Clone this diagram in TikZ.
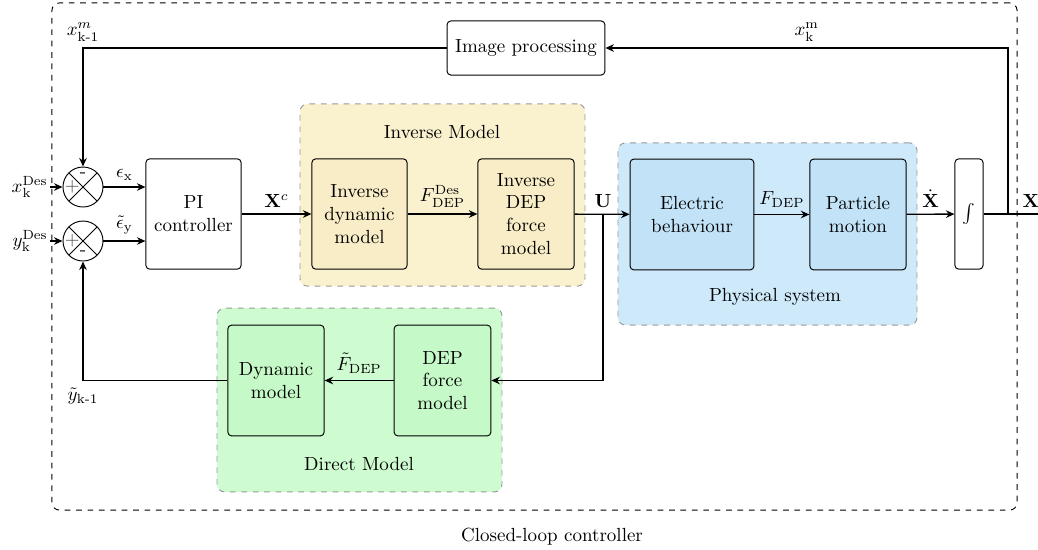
\documentclass[tikz,border=0pt]{standalone}
\usepackage{amsmath,amssymb}
\usepackage{bm}
\usepackage{tikz}
\usepackage{xcolor}
\usetikzlibrary{arrows.meta}

\definecolor{invback}{RGB}{250,241,206}
\definecolor{invfill}{RGB}{248,237,198}
\definecolor{phyback}{RGB}{206,233,249}
\definecolor{phyfill}{RGB}{194,227,247}
\definecolor{dirback}{RGB}{206,252,208}
\definecolor{dirfill}{RGB}{198,249,200}

\begin{document}
\begin{tikzpicture}[x=0.0185cm, y=-0.0185cm,
% Style for the blocks
block style/.style={
rectangle,
rounded corners=2pt,
draw=black,
line width=0.5pt,
align=center,
minimum width=1.76cm,
minimum height=2.04cm
},
% Style for the summing junctions
sum style/.style={
circle,
draw=black,
line width=0.5pt,
minimum size=0.74cm,
inner sep=0pt,
path picture={
\draw[line width=0.5pt] (path picture bounding box.north west) -- (path picture bounding box.south east)
(path picture bounding box.south west) -- (path picture bounding box.north east);
}
},
% Style for the coloured groups
back style/.style={
rectangle,
rounded corners=4pt,
draw=black!40,
dashed,
line width=0.5pt
},
% Style for the connections
link style/.style={
line width=0.7pt,
-{Stealth[length=4.5pt,width=4pt,inset=1.5pt]}
}
]

\useasboundingbox (0,0) rectangle (1038,549);

% Closed-loop frame
\node[rectangle, rounded corners=4pt, draw=black, dashed, line width=0.5pt,
minimum width=17.85cm, minimum height=9.38cm] (frame) at (534.5,256.5) {};
\node (framelab) at (552,537) {Closed-loop controller};

% Coloured groups
\node[back style, fill=invback, minimum width=5.27cm, minimum height=3.37cm] (invgroup) at (442.5,195) {};
\node (invlab) at (442,132) {Inverse Model};
\node[back style, fill=phyback, minimum width=5.53cm, minimum height=3.37cm] (phygroup) at (767.5,234) {};
\node (phylab) at (775,297) {Physical system};
\node[back style, fill=dirback, minimum width=5.27cm, minimum height=3.40cm] (dirgroup) at (359.5,400) {};
\node (dirlab) at (359,464) {Direct Model};

% Summing junctions
\foreach \i/\y/\d in {1/187/-12, 2/241/12} {
\node[sum style] (s\i) at (83,\y) {};
\node[inner sep=0pt, text=black!70] (plus\i) at ([xshift=-0.2cm]s\i.center) {$+$};
\node[inner sep=0pt] (minus\i) at (83,\y+\d) {-};
}

% Blocks
\node[block style] (pi) at (193.5,214) {PI\\controller};
\node[block style, fill=invfill] (invdyn) at (359.5,214) {Inverse\\dynamic\\model};
\node[block style, fill=invfill, minimum width=1.78cm] (invdep) at (526,214) {Inverse\\DEP\\force\\model};
\node[block style, fill=phyfill, minimum width=2.29cm, minimum height=2.05cm] (elec) at (692,214.5) {Electric\\behaviour};
\node[block style, fill=phyfill, minimum width=1.78cm, minimum height=2.05cm] (part) at (858,214.5) {Particle\\motion};
\node[block style, minimum width=0.52cm] (integ) at (969,214) {$\int$};
\node[block style, minimum width=2.92cm, minimum height=1cm] (imgproc) at (526,48) {Image processing};
\node[block style, fill=dirfill, minimum width=1.78cm, minimum height=2.05cm] (dyn) at (276,380.5) {Dynamic\\model};
\node[block style, fill=dirfill, minimum width=1.79cm, minimum height=2.05cm] (depf) at (442.5,380.5) {DEP\\force\\model};

% Free ends and branch points
\coordinate (xin) at (50,187);
\coordinate (yin) at (50,241);
\coordinate (ubranch) at (603,214);
\coordinate (xbranch) at (1008,214);
\coordinate (xout) at (1045,214);

% Set points
\node[anchor=east, inner sep=1pt] (xdes) at (xin) {$x_{\text{k}}^{\text{Des}}$};
\node[anchor=east, inner sep=1pt] (ydes) at (yin) {$y_{\text{k}}^{\text{Des}}$};
\draw[link style] (xin) -- (s1.west);
\draw[link style] (yin) -- (s2.west);

% Forward path
\draw[link style] (s1.east) -- node[above] (epsx) {$\epsilon_{\text{x}}$} (s1.east -| pi.west);
\draw[link style] (s2.east) -- node[above] (epsy) {$\tilde{\epsilon}_{\text{y}}$} (s2.east -| pi.west);
\draw[link style] (pi) -- node[above] (xc) {$\mathbf{X}^c$} (invdyn);
\draw[link style] (invdyn) -- node[above] (fdes) {$F_{\text{DEP}}^{\text{Des}}$} (invdep);
\draw[link style] (invdep) -- (elec);
\node[above] (ulab) at (ubranch) {$\mathbf{U}$};
\draw[link style] (elec) -- node[above] (fdep) {$F_{\text{DEP}}$} (part);
\draw[link style] (part) -- node[above] (xdot) {$\dot{\mathbf{X}}$} (integ);
\draw[line width=0.7pt] (integ) -- (xout);
\node[above] (xlab) at (1031,214) {$\mathbf{X}$};

% Measured feedback
\draw[link style] (xbranch) |- node[pos=0.75, above] (xm) {$x_{\text{k}}^{\text{m}}$} (imgproc);
\draw[link style] (imgproc) -| node[pos=0.5, above] (xmold) {$x_{\text{k-1}}^{m}$} (s1.north);

% Model feedback
\draw[link style] (ubranch) |- (depf);
\draw[link style] (depf) -- node[above] (ftil) {$\tilde{F}_{\text{DEP}}$} (dyn);
\draw[link style] (dyn) -| node[pos=0.5, below] (ytil) {$\tilde{y}_{\text{k-1}}$} (s2.south);

\end{tikzpicture}
\end{document}
